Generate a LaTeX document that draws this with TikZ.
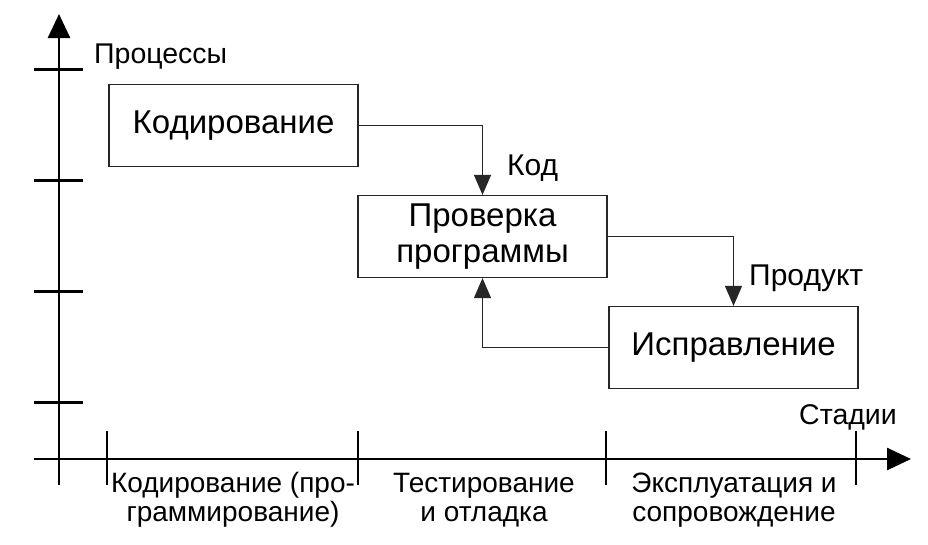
\documentclass[tikz,border=0pt]{standalone}
\usepackage{fontspec}
\setmainfont{Liberation Sans}
\usetikzlibrary{arrows.meta}
\begin{document}
\begin{tikzpicture}[x=1pt,y=-1pt,
  box/.style={draw=black!85,line width=1.2pt,minimum width=249pt,minimum height=82pt,inner sep=0pt,align=center,font=\fontsize{33}{36}\selectfont},
  conn/.style={draw=black!85,line width=1.2pt,-{Triangle[length=20pt,width=17pt]}},
  axisline/.style={line width=2.6pt,-{Triangle[length=24pt,width=22pt]}},
  ptick/.style={line width=3pt},
  stick/.style={line width=1.6pt},
  lab/.style={inner sep=0pt,font=\fontsize{30}{32}\selectfont},
  alab/.style={inner sep=0pt,font=\fontsize{28.5}{32}\selectfont},
  stage/.style={inner sep=0pt,font=\fontsize{28}{30}\selectfont}]
\useasboundingbox (0,0) rectangle (928,544);
% axes
\coordinate (ybot) at (59,485);
\coordinate (ytip) at (59,14);
\coordinate (xl) at (34,459);
\coordinate (xtip) at (911,459);
\draw[axisline] (ybot) -- (ytip);
\draw[axisline] (xl) -- (xtip);
% process ticks
\foreach \y in {69,180,291,402} \draw[ptick] (34,\y) -- (83,\y);
% stage ticks
\foreach \x in {107,358,606,856} \draw[stick] (\x,431) -- (\x,485);
% boxes
\node[box] (b1) at (233.5,125.5) {Кодирование};
\node[box] (b2) at (482.5,236.5) {Проверка\\программы};
\node[box] (b3) at (733.5,347.5) {Исправление};
% connectors
\draw[conn] (b1.east) -| (b2.north);
\draw[conn] (b2.east) -| (b3.north);
\draw[conn] (b3.west) -| (b2.south);
% labels
\node[lab,anchor=base west] (kod) at (507,175) {Код};
\node[lab,anchor=base west] (prod) at (749,285) {Продукт};
\node[alab,anchor=base west] (proc) at (94,63) {Процессы};
\node[alab,anchor=base west] (stad) at (799,424) {Стадии};
% stage labels
\node[stage,anchor=base] (s1a) at (233,492) {Кодирование (про-};
\node[stage,anchor=base] (s1b) at (233,521) {граммирование)};
\node[stage,anchor=base] (s2a) at (484,492) {Тестирование};
\node[stage,anchor=base] (s2b) at (484,521) {и отладка};
\node[stage,anchor=base] (s3a) at (734,492) {Эксплуатация и};
\node[stage,anchor=base] (s3b) at (734,521) {сопровождение};
\end{tikzpicture}
\end{document}
